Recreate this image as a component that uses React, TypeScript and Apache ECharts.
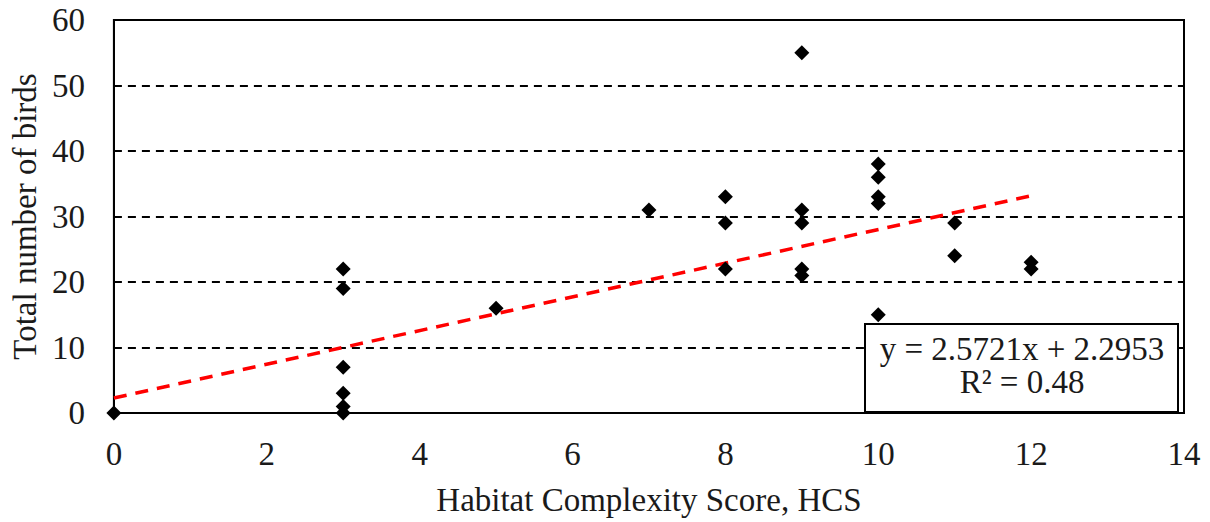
import React, { useEffect, useRef } from "react";
import * as echarts from "echarts";

const hcsScores = [0, 3, 3, 3, 3, 3, 3, 5, 7, 8, 8, 8, 9, 9, 9, 9, 9, 10, 10, 10, 10, 10, 11, 11, 12, 12];
const birdCounts = [0, 22, 19, 7, 3, 1, 0, 16, 31, 33, 29, 22, 55, 31, 29, 22, 21, 38, 36, 33, 32, 15, 29, 24, 23, 22];
const trendSlope = 2.5721;
const trendIntercept = 2.2953;
const trendRange = [0, 12];
const equationText = "y = 2.5721x + 2.2953";
const r2Text = "R² = 0.48";
const xTitle = "Habitat Complexity Score, HCS";
const yTitle = "Total number of birds";

const FONT = "'Liberation Serif', 'Times New Roman', serif";
const TXT = "#1a1a1a";

export default function App() {
  const ref = useRef<HTMLDivElement>(null);
  useEffect(() => {
    if (!ref.current) return;
    const chart = echarts.init(ref.current, undefined, { renderer: "svg" });
    const points = hcsScores.map((x, i) => [x, birdCounts[i]]);
    const trend = trendRange.map((x) => [x, trendSlope * x + trendIntercept]);
    chart.setOption({
      animation: false,
      backgroundColor: "#fff",
      grid: {
        left: 113,
        right: 26,
        top: 20,
        bottom: 109,
        show: true,
        borderColor: "#000",
        borderWidth: 2,
        backgroundColor: "transparent",
      },
      xAxis: {
        type: "value",
        min: 0,
        max: 14,
        interval: 2,
        name: xTitle,
        nameLocation: "middle",
        nameGap: 70,
        nameTextStyle: { fontFamily: FONT, fontSize: 33, color: TXT },
        axisLine: { show: true, onZero: false, lineStyle: { color: "#000", width: 2 } },
        axisTick: { show: false },
        axisLabel: { fontFamily: FONT, fontSize: 33, color: TXT, margin: 24 },
        splitLine: { show: false },
      },
      yAxis: {
        type: "value",
        min: 0,
        max: 60,
        interval: 10,
        name: yTitle,
        nameLocation: "middle",
        nameGap: 66,
        nameRotate: 90,
        nameTextStyle: { fontFamily: FONT, fontSize: 33, color: TXT },
        axisLine: { show: true, lineStyle: { color: "#000", width: 2 } },
        axisTick: { show: true, inside: true, length: 5, lineStyle: { color: "#000", width: 1.5 } },
        axisLabel: { fontFamily: FONT, fontSize: 33, color: TXT, margin: 29 },
        splitLine: { show: true, lineStyle: { color: "#000", type: [8, 6], width: 1.8 } },
      },
      series: [
        {
          type: "line",
          data: trend,
          showSymbol: false,
          symbol: "none",
          lineStyle: { color: "#ff0000", width: 3.5, type: [13, 9] },
          z: 3,
          silent: true,
        },
        {
          type: "scatter",
          data: points,
          symbol: "diamond",
          symbolSize: [15, 15],
          itemStyle: { color: "#000", opacity: 1 },
          z: 4,
          clip: false,
        },
      ],
      graphic: [
        {
          type: "rect",
          shape: { x: 865, y: 324, width: 313, height: 88 },
          style: { fill: "#fff", stroke: "#000", lineWidth: 2 },
          z: 100,
        },
        {
          type: "text",
          x: 1022,
          y: 349,
          style: {
            text: equationText,
            fontFamily: FONT,
            fontSize: 33,
            fill: TXT,
            textAlign: "center",
            textVerticalAlign: "middle",
          },
          z: 101,
        },
        {
          type: "text",
          x: 1022,
          y: 382,
          style: {
            text: r2Text,
            fontFamily: FONT,
            fontSize: 33,
            fill: TXT,
            textAlign: "center",
            textVerticalAlign: "middle",
          },
          z: 101,
        },
      ],
    });
    return () => chart.dispose();
  }, []);
  return <div ref={ref} style={{ width: 1210, height: 522, position: "absolute", left: 0, top: 0 }} />;
}
